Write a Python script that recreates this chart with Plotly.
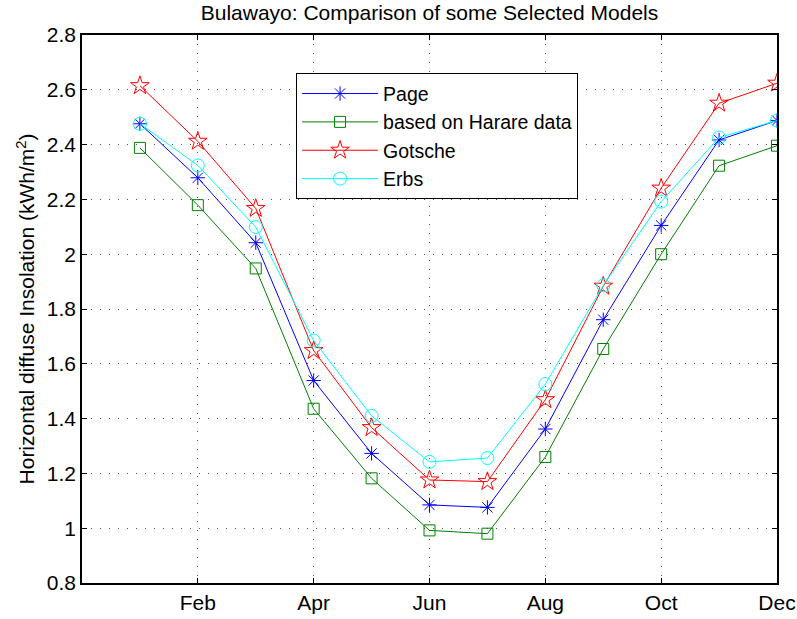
import plotly.graph_objects as go

months = list(range(1, 13))
tick_vals = [2, 4, 6, 8, 10, 12]
tick_text = ["Feb", "Apr", "Jun", "Aug", "Oct", "Dec"]

page    = [2.476, 2.279, 2.042, 1.539, 1.273, 1.085, 1.076, 1.362, 1.761, 2.105, 2.417, 2.488]
harare  = [2.388, 2.179, 1.948, 1.436, 1.182, 0.992, 0.980, 1.260, 1.654, 2.000, 2.323, 2.396]
gotsche = [2.615, 2.412, 2.167, 1.648, 1.367, 1.176, 1.170, 1.469, 1.883, 2.241, 2.551, 2.624]
erbs    = [2.476, 2.324, 2.099, 1.685, 1.410, 1.242, 1.256, 1.526, 1.886, 2.192, 2.426, 2.488]

FONT = "Liberation Sans, Arial, Helvetica, sans-serif"
FS = 21

series = [
    ("Page", page, "#0000ff", "asterisk-open", 12),
    ("based on Harare data", harare, "#008000", "square-open", 11),
    ("Gotsche", gotsche, "#ff0000", "star-open", 14),
    ("Erbs", erbs, "#00ffff", "circle-open", 13),
]

fig = go.Figure()
for name, vals, col, sym, sz in series:
    fig.add_trace(go.Scatter(
        x=months, y=vals, name=name, mode="lines+markers",
        line=dict(color=col, width=1),
        marker=dict(symbol=sym, size=sz, color=col, line=dict(color=col, width=1)),
    ))

axis_common = dict(
    showline=True, linecolor="black", linewidth=1.5, mirror="ticks",
    ticks="inside", ticklen=5, tickcolor="black", automargin=False,
    showgrid=True, gridcolor="#555555", gridwidth=1, griddash="1px,8px",
    zeroline=False, tickfont=dict(size=FS, color="black", family=FONT),
)

fig.update_xaxes(range=[0, 12], tickvals=tick_vals, ticktext=tick_text, **axis_common)
fig.update_yaxes(range=[0.8, 2.8], dtick=0.2, tickformat="~g",
                 title=dict(text="Horizontal diffuse Insolation (kWh/m<sup>2</sup>)",
                            font=dict(size=FS, color="black", family=FONT), standoff=6),
                 **axis_common)

fig.update_layout(
    width=797, height=619,
    margin=dict(l=82, r=20, t=35, b=36),
    paper_bgcolor="white", plot_bgcolor="white",
    font=dict(family=FONT, color="black", size=FS),
    title=dict(text="Bulawayo: Comparison of some Selected Models",
               x=(82 + 777) / 2 / 797, xanchor="center", y=1 - 13 / 619, yanchor="middle",
               font=dict(size=FS, color="black", family=FONT)),
    legend=dict(x=0.308, y=0.93, xanchor="left", yanchor="top",
                bgcolor="white", bordercolor="black", borderwidth=1,
                font=dict(size=19.5, color="black", family=FONT),
                itemwidth=76, tracegroupgap=0),
    showlegend=True,
)

# drop the page's default 8px body margin so the figure sits at (0, 0)
fig.write_html("out.html", config={"displayModeBar": False},
               post_script="document.body.style.margin='0px';")
